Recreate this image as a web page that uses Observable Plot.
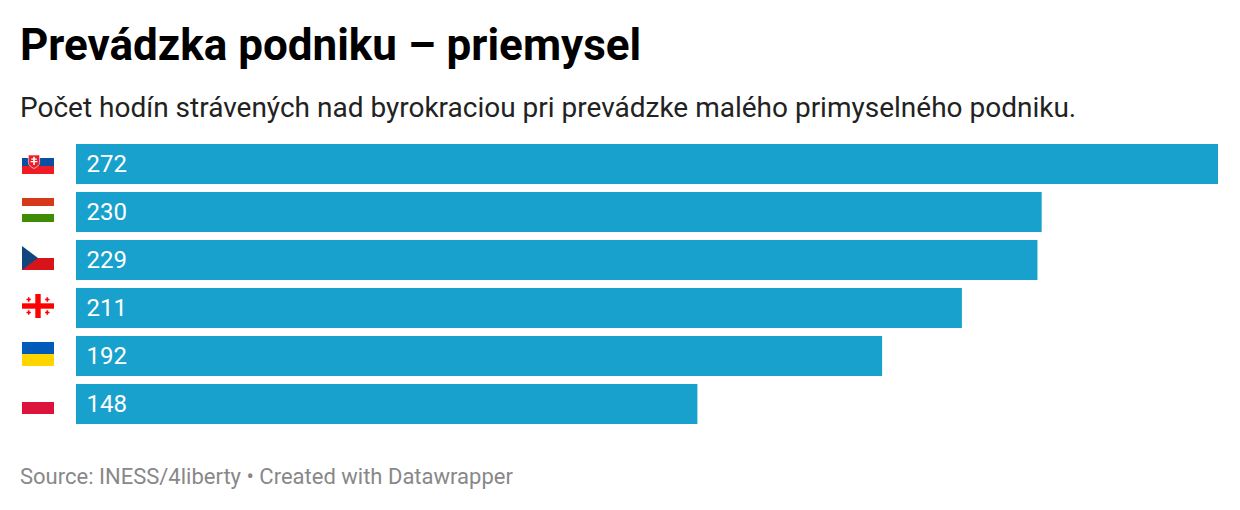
<!DOCTYPE html>
<html lang="sk">
<head>
<meta charset="utf-8">
<script src="https://cdn.jsdelivr.net/npm/d3@7"></script>
<script src="https://cdn.jsdelivr.net/npm/@observablehq/plot@0.6"></script>
<style>
  html, body { margin: 0; padding: 0; background: #fff; font-family: Roboto, sans-serif; }
  #wrap { width: 1240px; height: 510px; position: relative; overflow: hidden; }
  h1 { position: absolute; left: 20px; top: 19px; margin: 0; font-size: 44px; line-height: 52px; font-weight: 700; color: #000; white-space: nowrap; }
  .sub { position: absolute; left: 20px; top: 90px; font-size: 28px; line-height: 36px; color: #222; white-space: nowrap; }
  #chart { position: absolute; left: 0; top: 140px; }
  .foot { position: absolute; left: 20px; top: 462px; font-size: 22px; line-height: 30px; color: #888; white-space: nowrap; }
</style>
</head>
<body>
<div id="wrap">
  <h1>Prevádzka podniku – priemysel</h1>
  <div class="sub">Počet hodín strávených nad byrokraciou pri prevádzke malého primyselného podniku.</div>
  <div id="chart"></div>
  <div class="foot">Source: INESS/4liberty • Created with Datawrapper</div>
</div>
<script>
const countries = ["Slovensko", "Maďarsko", "Česko", "Gruzínsko", "Ukrajina", "Poľsko"];
const hours = [272, 230, 229, 211, 192, 148];
const flagBodies = [
  `<rect width="32" height="24" fill="#fff"/><rect y="8" width="32" height="8" fill="#0b4ea2"/><rect y="16" width="32" height="8" fill="#ee1c25"/><path d="M6.400 5h11.200v7.500c0 3-2.800 4.600-5.600 6-2.800-1.400-5.600-3-5.600-6z" fill="#ee1c25" stroke="#fff" stroke-width=".6"/><path d="M11.200 6.700h1.600v1.800h2v1.300h-2v1.200h2.600v1.300h-2.600v2.600h-1.600v-2.600H8.600V11h2.600V9.800h-2V8.500h2z" fill="#fff"/>`,
  `<rect width="32" height="8" fill="#d7381a"/><rect y="8" width="32" height="8" fill="#fff"/><rect y="16" width="32" height="8" fill="#3f8c04"/>`,
  `<rect width="32" height="12" fill="#fff"/><rect y="12" width="32" height="12" fill="#d7141a"/><path d="M0 0L16 12L0 24z" fill="#11457e"/>`,
  `<rect width="32" height="24" fill="#fff"/><rect x="13.300" width="5.400" height="24" fill="#f00"/><rect y="9.300" width="32" height="5.400" fill="#f00"/><path d="M6.700 3.300v4.400M4.500 5.500h4.400M25.300 3.300v4.400M23.100 5.500h4.400M6.700 16.300v4.400M4.500 18.500h4.400M25.300 16.300v4.400M23.100 18.500h4.400" stroke="#f00" stroke-width="1.600"/>`,
  `<rect width="32" height="12" fill="#005bbb"/><rect y="12" width="32" height="12" fill="#ffd500"/>`,
  `<rect width="32" height="12" fill="#fff"/><rect y="12" width="32" height="12" fill="#dc143c"/>`
];
const flagSrc = flagBodies.map(b => "data:image/svg+xml," + encodeURIComponent(`<svg xmlns="http://www.w3.org/2000/svg" width="32" height="24" viewBox="0 0 32 24">${b}</svg>`));
const rows = countries.map((c, i) => ({country: c, value: hours[i], src: flagSrc[i]}));

const chart = Plot.plot({
  width: 1240,
  height: 290,
  marginLeft: 76,
  marginRight: 22,
  marginTop: 4,
  marginBottom: 6,
  style: {fontFamily: "Roboto, sans-serif", background: "transparent"},
  x: {domain: [0, 272], axis: null},
  y: {domain: countries, axis: null, paddingInner: 1/6, paddingOuter: 0, round: false},
  marks: [
    Plot.barX(rows, {x: "value", y: "country", fill: "#18a1cd"}),
    Plot.text(rows, {y: "country", text: d => String(d.value), frameAnchor: "left", textAnchor: "start", dx: 10, fill: "#fff", fontSize: 24}),
    Plot.image(rows, {y: "country", src: "src", frameAnchor: "left", width: 32, height: 24, dx: -38.5, dy: -2.5})
  ]
});
document.getElementById("chart").append(chart);
</script>
</body>
</html>
